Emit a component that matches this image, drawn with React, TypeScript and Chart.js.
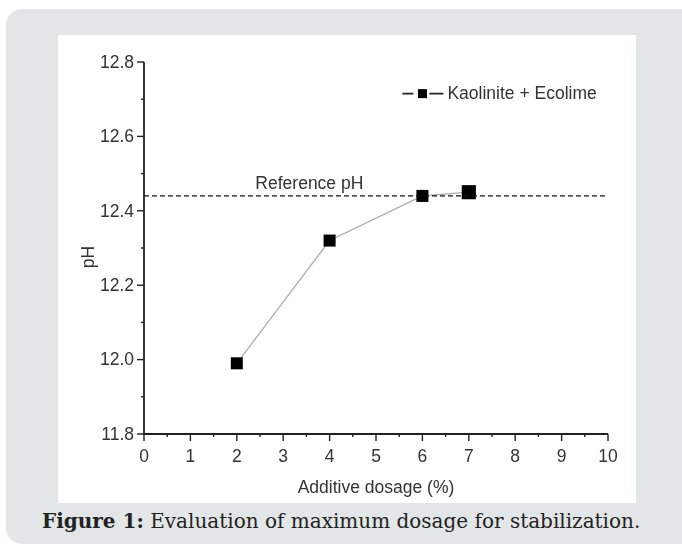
import React, { useEffect, useRef } from "react";
import { Chart, registerables } from "chart.js";

Chart.register(...registerables);

const dosage = [2, 4, 6, 7];
const phValues = [11.99, 12.32, 12.44, 12.45];
const referencePH = 12.44;
const xTicks = [0, 1, 2, 3, 4, 5, 6, 7, 8, 9, 10];
const yTicks = [11.8, 12.0, 12.2, 12.4, 12.6, 12.8];
const seriesLabel = "Kaolinite + Ecolime";
const referenceLabel = "Reference pH";
const xTitle = "Additive dosage (%)";
const yTitle = "pH";

const BOX_W = 578;
const BOX_H = 468;
const AXIS_LEFT = 86;
const AXIS_RIGHT = 550;
const AXIS_TOP = 27;
const AXIS_BOTTOM = 399;
const FONT = "Liberation Sans, Arial, sans-serif";

const customPlugin = {
  id: "custom",
  afterDraw(chart: any) {
    const { ctx, scales } = chart;
    const x = scales.x;
    const y = scales.y;
    ctx.save();
    // reference line
    const yr = y.getPixelForValue(referencePH);
    ctx.strokeStyle = "#111";
    ctx.lineWidth = 1.4;
    ctx.setLineDash([5, 3]);
    ctx.beginPath();
    ctx.moveTo(x.left, yr);
    ctx.lineTo(x.right, yr);
    ctx.stroke();
    ctx.setLineDash([]);
    // axes
    ctx.strokeStyle = "#222";
    ctx.lineWidth = 1.8;
    ctx.beginPath();
    ctx.moveTo(x.left, y.top);
    ctx.lineTo(x.left, y.bottom);
    ctx.lineTo(x.right, y.bottom);
    ctx.stroke();
    // y ticks
    ctx.lineWidth = 1.4;
    for (let i = 0; i <= 10; i++) {
      const v = 11.8 + i * 0.1;
      const py = y.getPixelForValue(v);
      const major = i % 2 === 0;
      ctx.beginPath();
      ctx.moveTo(x.left, py);
      ctx.lineTo(x.left - (major ? 7 : 3), py);
      ctx.stroke();
    }
    for (let i = 0; i <= 20; i++) {
      const v = i * 0.5;
      const px = x.getPixelForValue(v);
      const major = i % 2 === 0;
      ctx.beginPath();
      ctx.moveTo(px, y.bottom);
      ctx.lineTo(px, y.bottom + (major ? 7 : 3));
      ctx.stroke();
    }
    // tick labels
    ctx.fillStyle = "#333";
    ctx.font = `17.5px ${FONT}`;
    ctx.textAlign = "right";
    ctx.textBaseline = "middle";
    yTicks.forEach((v) => {
      ctx.fillText(v.toFixed(1), x.left - 10, y.getPixelForValue(v) + 1);
    });
    ctx.textAlign = "center";
    xTicks.forEach((v) => {
      ctx.fillText(String(v), x.getPixelForValue(v), y.bottom + 23);
    });
    // titles
    ctx.fillText(xTitle, (x.left + x.right) / 2, y.bottom + 54);
    ctx.save();
    ctx.translate(31, 222);
    ctx.rotate(-Math.PI / 2);
    ctx.fillText(yTitle, 0, 0);
    ctx.restore();
    // reference label
    ctx.textAlign = "left";
    ctx.fillText(referenceLabel, x.getPixelForValue(2.4), y.getPixelForValue(12.472));
    // legend
    const ly = y.getPixelForValue(12.715);
    const lx = x.getPixelForValue(5.57);
    ctx.strokeStyle = "#222";
    ctx.lineWidth = 1.8;
    ctx.beginPath();
    ctx.moveTo(lx, ly);
    ctx.lineTo(lx + 11, ly);
    ctx.moveTo(lx + 27, ly);
    ctx.lineTo(lx + 41, ly);
    ctx.stroke();
    ctx.fillStyle = "#000";
    ctx.fillRect(lx + 15.5, ly - 4.5, 9, 9);
    ctx.fillStyle = "#333";
    ctx.fillText(seriesLabel, lx + 45, ly + 1);
    ctx.restore();
  },
};

export default function App() {
  const ref = useRef<HTMLCanvasElement>(null);
  useEffect(() => {
    if (!ref.current) return;
    const chart = new Chart(ref.current, {
      type: "scatter",
      data: {
        datasets: [
          {
            label: seriesLabel,
            data: dosage.map((d, i) => ({ x: d, y: phValues[i] })),
            showLine: true,
            borderColor: "#aaa",
            borderWidth: 1.2,
            pointStyle: "rect",
            pointRadius: [8.5, 8.5, 8.5, 10],
            pointBackgroundColor: "#000",
            pointBorderColor: "#000",
            pointBorderWidth: 0,
          },
        ],
      },
      plugins: [customPlugin],
      options: {
        animation: false,
        responsive: false,
        layout: { padding: { top: AXIS_TOP, right: BOX_W - AXIS_RIGHT } },
        plugins: { legend: { display: false }, tooltip: { enabled: false } },
        scales: {
          x: {
            type: "linear",
            min: 0,
            max: 10,
            display: true,
            grid: { display: false },
            border: { display: false },
            ticks: { display: false },
            afterFit(s: any) {
              s.height = BOX_H - AXIS_BOTTOM;
            },
          },
          y: {
            type: "linear",
            min: 11.8,
            max: 12.8,
            display: true,
            grid: { display: false },
            border: { display: false },
            ticks: { display: false },
            afterFit(s: any) {
              s.width = AXIS_LEFT;
            },
          },
        },
      } as any,
    });
    return () => chart.destroy();
  }, []);

  return (
    <div style={{ position: "fixed", left: 0, top: 0, width: 682, height: 547, background: "#fff", overflow: "hidden" }}>
      <div
        style={{
          position: "absolute",
          left: 6,
          top: 9,
          width: 700,
          height: 535,
          borderRadius: 16,
          background: "#e2e6e6",
        }}
      />
      <div style={{ position: "absolute", left: 58, top: 35, width: BOX_W, height: BOX_H, background: "#fff" }}>
        <canvas ref={ref} width={BOX_W} height={BOX_H} style={{ display: "block", width: BOX_W, height: BOX_H }} />
      </div>
      <div
        style={{
          position: "absolute",
          left: 42,
          top: 508,
          lineHeight: "26px",
          whiteSpace: "nowrap",
          fontFamily: "'DejaVu Serif', serif",
          fontSize: 20,
          color: "#222",
        }}
      >
        <b>Figure 1:</b> Evaluation of maximum dosage for stabilization.
      </div>
    </div>
  );
}
